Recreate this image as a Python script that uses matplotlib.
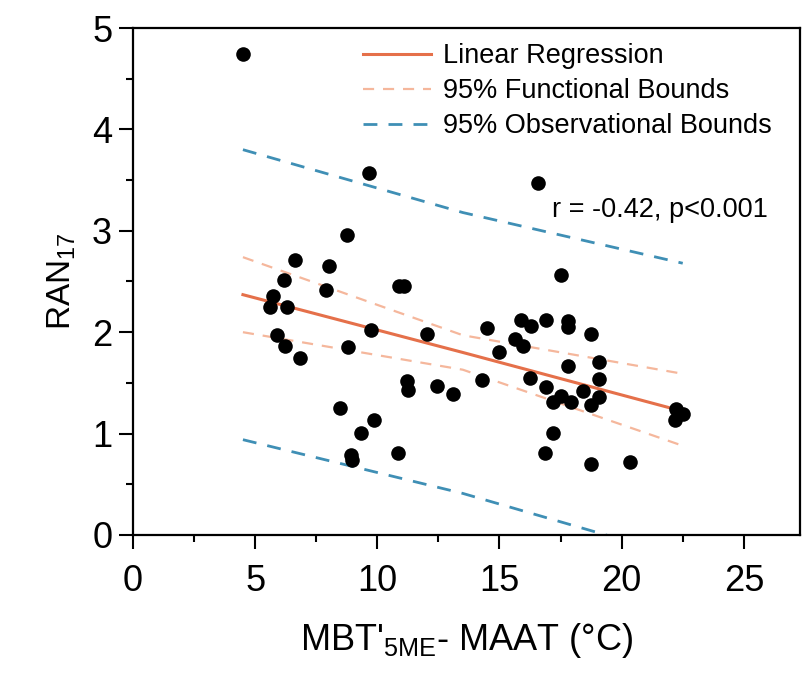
# RAN17 vs MBT'5ME - MAAT scatter with regression and 95% bounds

import matplotlib
matplotlib.use('Agg')
import matplotlib.pyplot as plt
from matplotlib.ticker import MultipleLocator

plt.rcParams['font.family'] = ['Liberation Sans', 'DejaVu Sans']
plt.rcParams['mathtext.default'] = 'regular'

# points
dx = [4.52, 9.64, 16.58, 8.76, 6.65, 8.01, 6.18, 7.88, 10.90, 11.10,
      5.74, 5.60, 6.29, 9.74, 12.03, 5.91, 6.24, 8.79, 6.83, 11.21,
      11.24, 12.46, 13.11, 14.27, 8.49, 9.85, 9.35, 10.86, 8.93, 8.97,
      14.50, 15.87, 16.27, 16.90, 17.82, 17.82, 15.63, 15.96, 15.00, 17.82,
      16.24, 16.90, 17.52, 18.76, 19.09, 19.09, 18.42, 19.09, 17.51, 17.92,
      17.20, 18.75, 22.24, 22.49, 22.20, 17.18, 16.88, 18.76, 20.33]
dy = [4.74, 3.57, 3.47, 2.96, 2.71, 2.65, 2.51, 2.42, 2.46, 2.46,
      2.36, 2.25, 2.25, 2.02, 1.98, 1.97, 1.86, 1.85, 1.75, 1.52,
      1.43, 1.47, 1.39, 1.53, 1.25, 1.13, 1.01, 0.81, 0.79, 0.74,
      2.04, 2.12, 2.06, 2.12, 2.11, 2.05, 1.93, 1.86, 1.80, 1.67,
      1.55, 1.46, 2.56, 1.98, 1.71, 1.54, 1.42, 1.36, 1.37, 1.31,
      1.31, 1.28, 1.24, 1.19, 1.13, 1.01, 0.81, 0.70, 0.72]

# fit line and bands (read at start, middle, end)
fit_x = [4.5, 13.5, 22.5]
reg_y = [2.37, 1.80, 1.22]
func_hi = [2.74, 1.97, 1.59]
func_lo = [2.00, 1.63, 0.88]
obs_hi = [3.80, 3.18, 2.68]
obs_lo = [0.94, 0.41, -0.22]

fig = plt.figure(figsize=(8.03, 6.83), dpi=100)
ax = fig.add_axes([0.1656, 0.2167, 0.8307, 0.7423])

ax.plot(fit_x, obs_hi, color='#3f8fb5', lw=2.0, dashes=(5, 4), label='95% Observational Bounds')
ax.plot(fit_x, obs_lo, color='#3f8fb5', lw=2.0, dashes=(5, 4))
ax.plot(fit_x, func_hi, color='#f5b79c', lw=1.6, dashes=(5, 4), label='95% Functional Bounds')
ax.plot(fit_x, func_lo, color='#f5b79c', lw=1.6, dashes=(5, 4))
ax.plot(fit_x, reg_y, color='#e5704a', lw=2.2, label='Linear Regression')
ax.plot(dx, dy, 'o', color='black', ms=10.5, mew=0, zorder=5)

ax.set_xlim(0, 27.3)
ax.set_ylim(0, 5)
ax.xaxis.set_major_locator(MultipleLocator(5))
ax.xaxis.set_minor_locator(MultipleLocator(2.5))
ax.yaxis.set_major_locator(MultipleLocator(1))
ax.yaxis.set_minor_locator(MultipleLocator(0.5))
ax.tick_params(which='major', direction='out', length=10, width=1.5, labelsize=26, pad=5)
ax.tick_params(axis='x', which='major', pad=11)
ax.tick_params(which='minor', direction='out', length=5, width=1.5)
for s in ax.spines.values():
    s.set_linewidth(1.6)

ax.set_xlabel("MBT'$_{5ME}$- MAAT (°C)", fontsize=26, labelpad=16)
ax.set_ylabel('RAN$_{17}$', fontsize=24, labelpad=10)

h, l = ax.get_legend_handles_labels()
order = [2, 1, 0]
ax.legend([h[i] for i in order], [l[i] for i in order], loc='upper left',
          bbox_to_anchor=(0.345, 0.97), frameon=False, fontsize=19.5,
          handlelength=2.5, handletextpad=0.45, labelspacing=0.33, borderpad=0.0,
          borderaxespad=0.0)

ax.text(0.628, 0.641, 'r = -0.42, p<0.001', transform=ax.transAxes, fontsize=19.5,
        va='center', ha='left')

fig.savefig('out.png', dpi=100)
